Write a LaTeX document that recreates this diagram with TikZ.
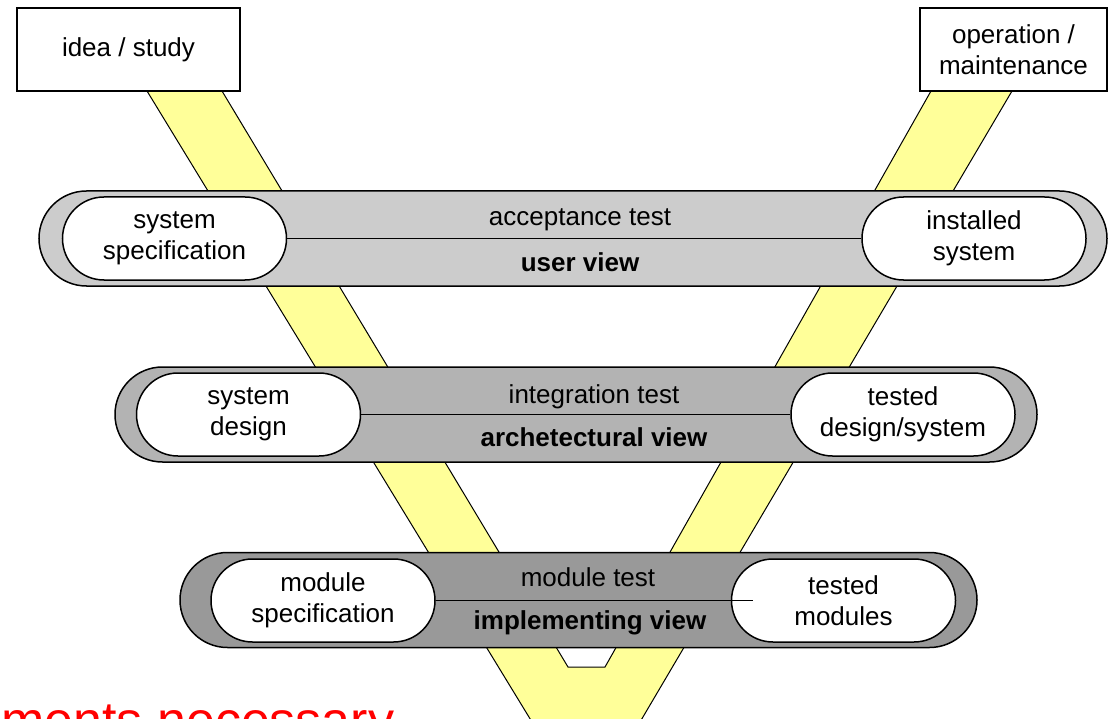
\documentclass[tikz,border=0pt]{standalone}
\usepackage{fontspec}
\setmainfont{Liberation Sans}
\usetikzlibrary{calc}
\definecolor{vyellow}{HTML}{FFFF99}
\definecolor{userband}{HTML}{CCCCCC}
\definecolor{archband}{HTML}{B3B3B3}
\definecolor{implband}{HTML}{999999}
\definecolor{alertred}{HTML}{FF0000}

\begin{document}
\begin{tikzpicture}[x=1pt, y=-1pt,
  phase/.style={draw, line width=1.2pt, fill=white, inner sep=0pt, align=center,
    minimum height=83pt, font=\fontsize{26}{31}\selectfont},
  band/.style={draw, line width=1.5pt, inner sep=0pt, minimum height=95pt,
    rounded corners=47.5pt},
  pill/.style={draw, line width=1.5pt, fill=white, inner sep=0pt, align=center,
    minimum width=224pt, minimum height=83pt, rounded corners=41.5pt,
    font=\fontsize{26}{31}\selectfont},
  lbl/.style={inner sep=0pt, font=\fontsize{26}{31}\selectfont},
  view/.style={lbl, font=\fontsize{26}{31}\selectfont\bfseries}]
  \useasboundingbox (0,0) rectangle (1113,719);
  \clip (0,0) rectangle (1113,719);

  % the V
  \draw[line width=1pt, fill=vyellow] (147,91) -- (532,722) -- (640,722) -- (1012,91)
    -- (931,91) -- (605,667) -- (568,667) -- (222,91) -- cycle;

  % bands
  \node[band, fill=userband, minimum width=1068pt] (uband) at (573,238.5) {};
  \node[band, fill=archband, minimum width=922pt] (aband) at (576,414.5) {};
  \node[band, fill=implband, minimum width=797pt] (iband) at (578.5,600) {};

  % left and right ends of each band
  \node[pill] (sysspec) at (174.5,238.5) {system\\specification};
  \node[pill] (instsys) at (974,238.5) {installed\\system};
  \node[pill] (sysdes) at (248.5,414.5) {system\\design};
  \node[pill] (testdes) at (903,414.5) {tested\\design/system};
  \node[pill] (modspec) at (323,600.5) {module\\specification};
  \node[pill] (testmod) at (843.5,600.5) {tested\\modules};

  % test lines
  \coordinate (modend) at (753,600.5);
  \draw[line width=1.2pt] (sysspec) -- (instsys);
  \draw[line width=1.2pt] (sysdes) -- (testdes);
  \draw[line width=1.2pt] (modspec) -- (modend);

  % labels
  \node[lbl] (acctest) at (580,220) {acceptance test};
  \node[view] (userview) at (580,262) {user view};
  \node[lbl] (inttest) at (594,397) {integration test};
  \node[view] (archview) at (594,437) {archetectural view};
  \node[lbl] (modtest) at (588,577) {module test};
  \node[view] (implview) at (590,623) {implementing view};

  % start and end
  \node[phase, minimum width=223pt] (idea) at (128.5,49.5) {idea / study};
  \node[phase, minimum width=187pt] (oper) at (1013.5,49.5) {operation /\\maintenance};

  \node[anchor=base west, inner sep=0pt, text=alertred,
    font=\fontsize{52}{60}\selectfont] (note) at (1,738) {ments necessary};
\end{tikzpicture}
\end{document}
